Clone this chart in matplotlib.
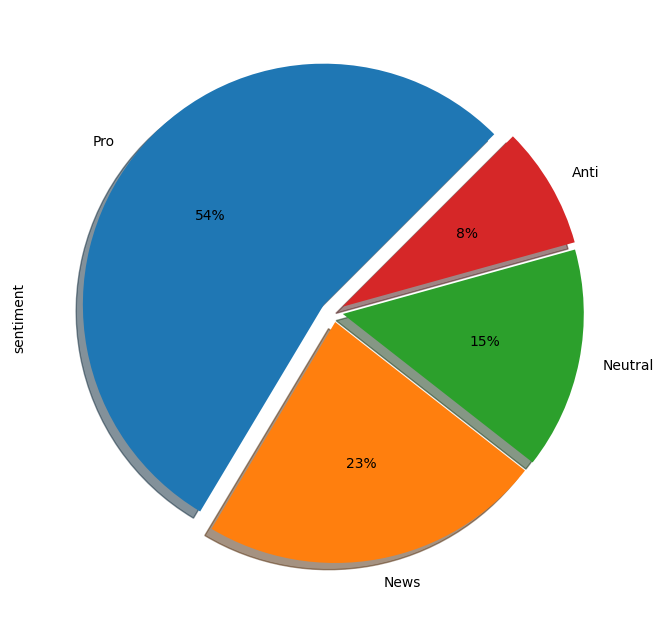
import matplotlib
matplotlib.use("Agg")
import matplotlib.pyplot as plt

labels = ["Pro", "News", "Neutral", "Anti"]
counts = [8530, 3640, 2353, 1296]
explode = [0.05, 0.042, 0.04, 0.044]

fig = plt.figure(figsize=(6.63, 6.23), dpi=100)
ax = fig.add_axes([0.0483, 0.0156, 0.909, 0.967])
ax.pie(counts, labels=labels, autopct="%1.0f%%", startangle=45,
       shadow=True, explode=explode,
       colors=["#1f77b4", "#ff7f0e", "#2ca02c", "#d62728"])
ax.set_xlim(-1.25, 1.25)
ax.set_ylim(-1.25, 1.25)
ax.set_ylabel("sentiment")
ax.yaxis.set_label_coords(-0.01, 0.49)
fig.savefig("out.png", dpi=100)
